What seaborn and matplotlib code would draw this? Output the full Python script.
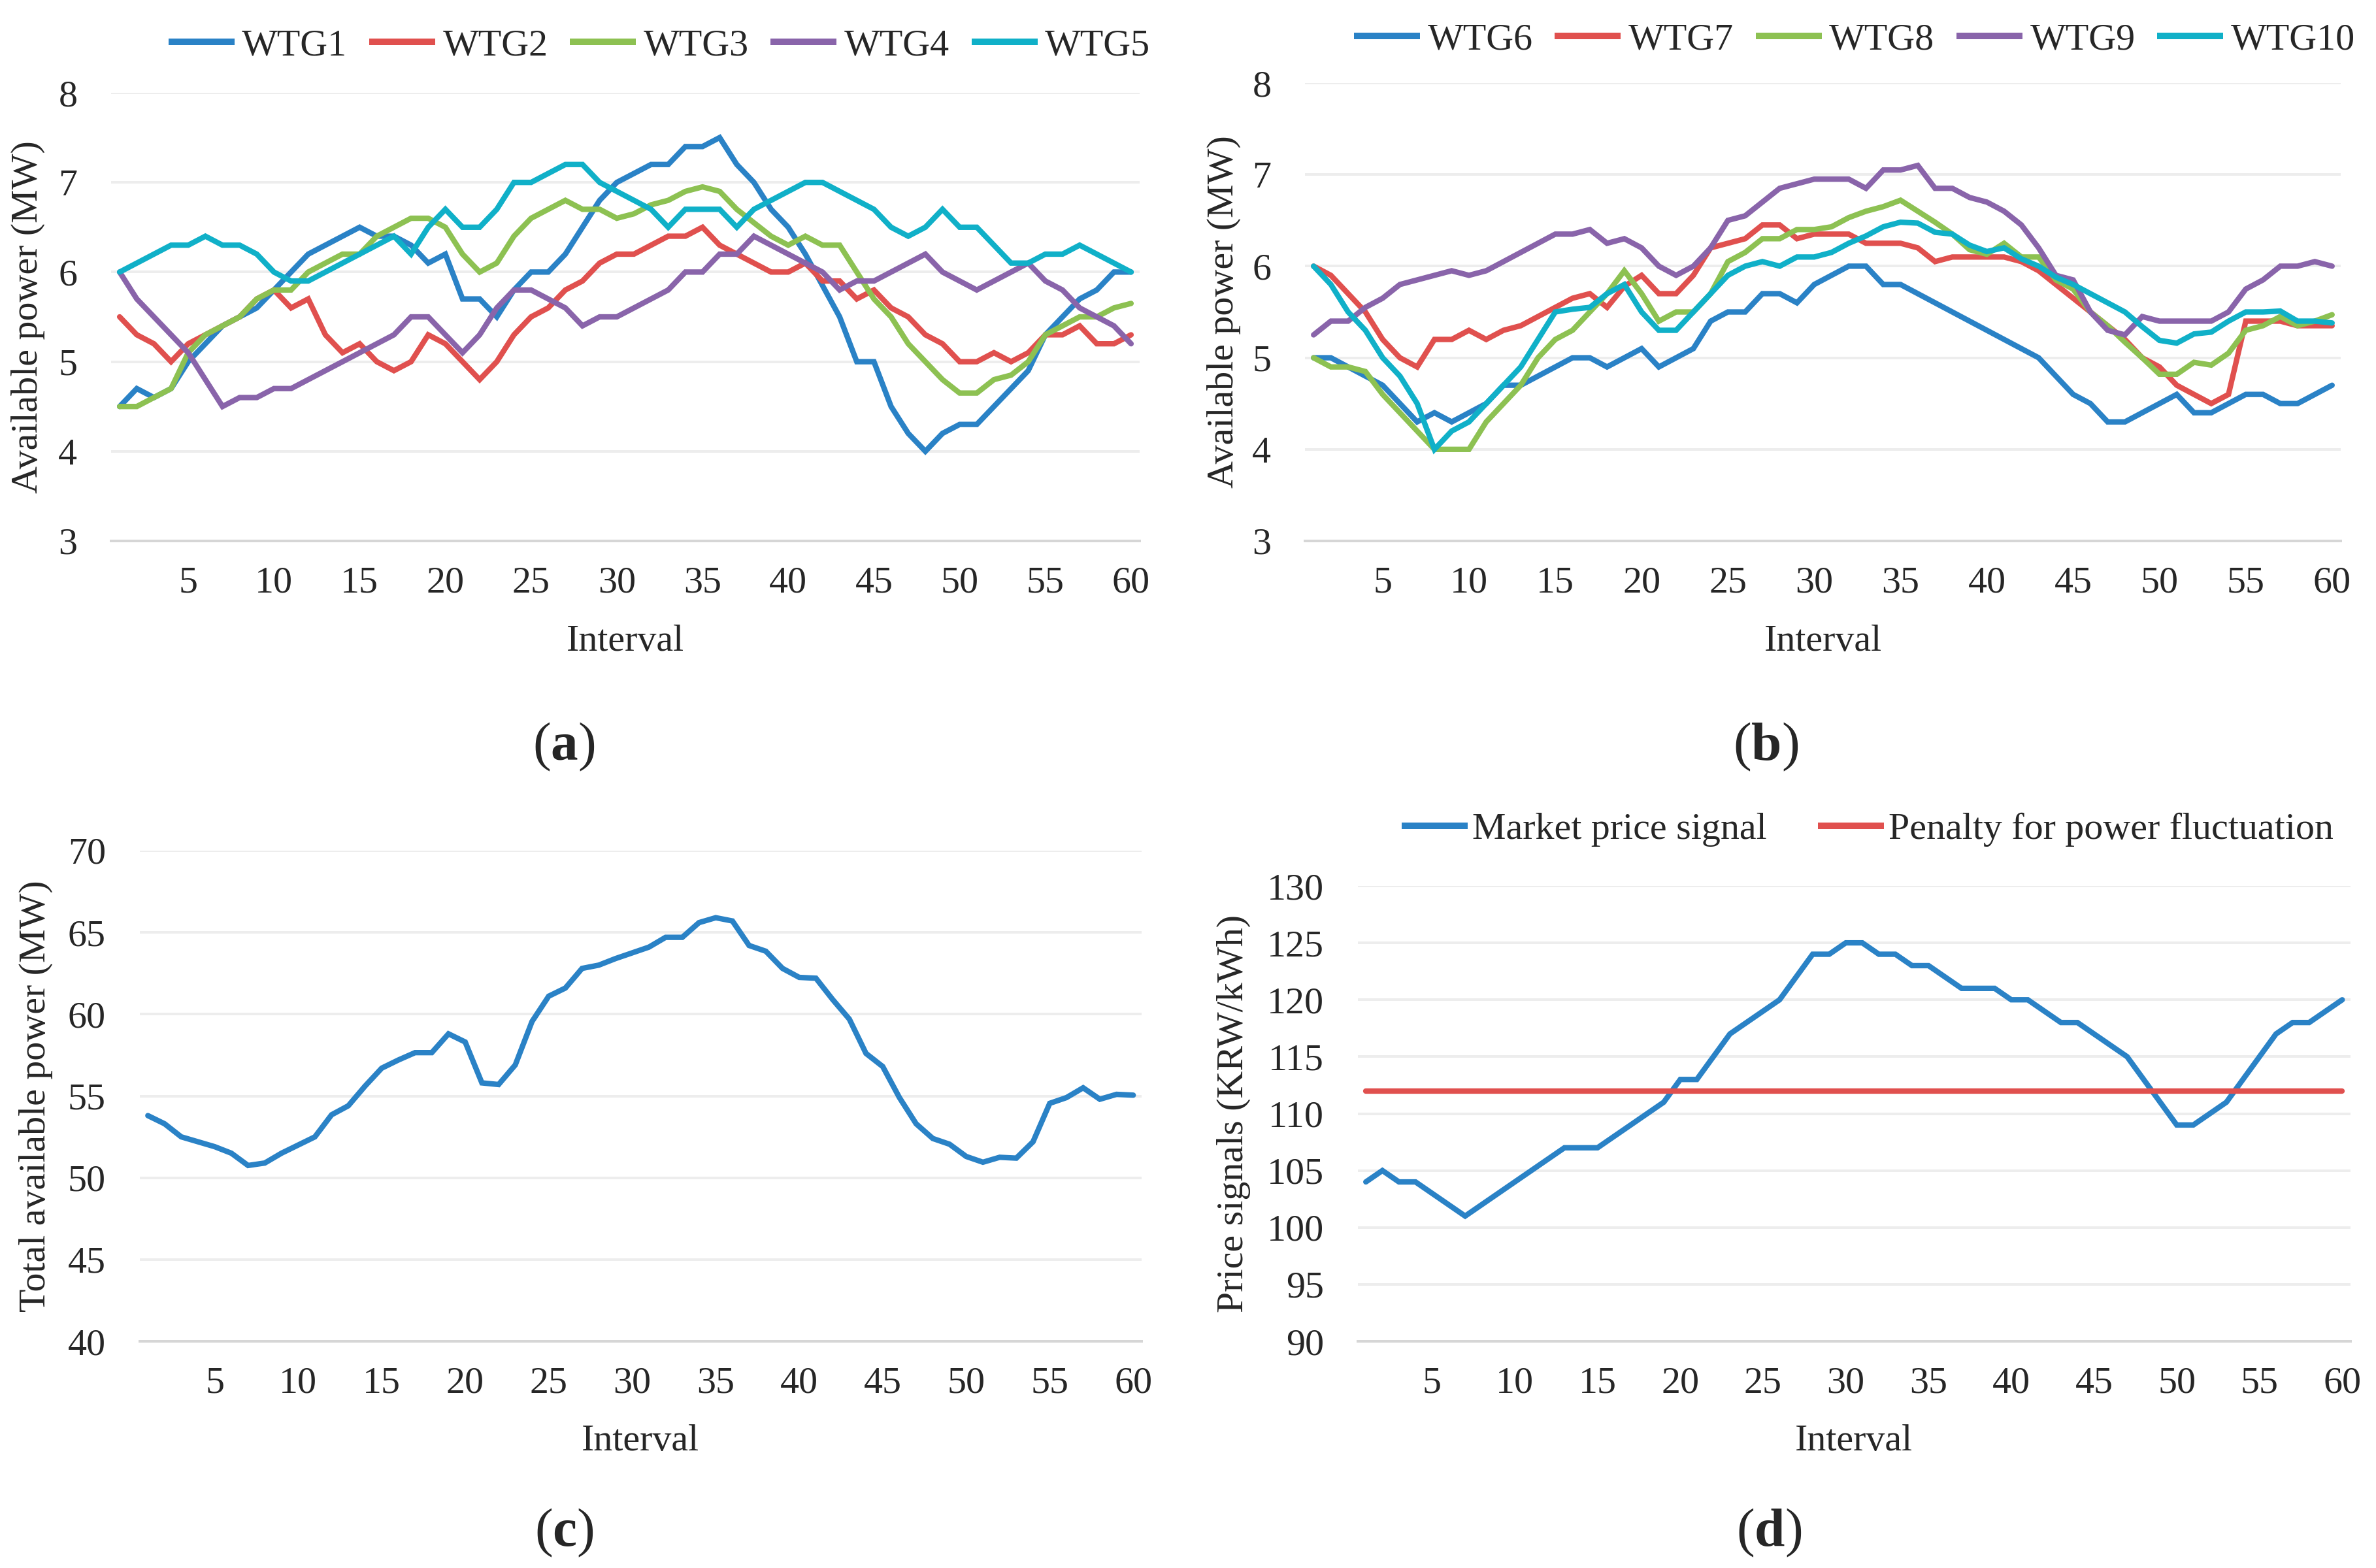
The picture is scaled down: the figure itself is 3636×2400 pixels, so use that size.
import numpy as np
import pandas as pd
import matplotlib
matplotlib.use("Agg")
import matplotlib.pyplot as plt
import seaborn as sns

# ---------------- data ----------------
intervals = list(range(1, 61))

wtg1 = [4.5, 4.7, 4.6, 4.7, 5.0, 5.2, 5.4, 5.5, 5.6, 5.8, 6.0, 6.2, 6.3, 6.4, 6.5, 6.4, 6.4, 6.3, 6.1, 6.2,
        5.7, 5.7, 5.5, 5.8, 6.0, 6.0, 6.2, 6.5, 6.8, 7.0, 7.1, 7.2, 7.2, 7.4, 7.4, 7.5, 7.2, 7.0, 6.7, 6.5,
        6.2, 5.85, 5.5, 5.0, 5.0, 4.5, 4.2, 4.0, 4.2, 4.3, 4.3, 4.5, 4.7, 4.9, 5.3, 5.5, 5.7, 5.8, 6.0, 6.0]
wtg2 = [5.5, 5.3, 5.2, 5.0, 5.2, 5.3, 5.4, 5.5, 5.7, 5.8, 5.6, 5.7, 5.3, 5.1, 5.2, 5.0, 4.9, 5.0, 5.3, 5.2,
        5.0, 4.8, 5.0, 5.3, 5.5, 5.6, 5.8, 5.9, 6.1, 6.2, 6.2, 6.3, 6.4, 6.4, 6.5, 6.3, 6.2, 6.1, 6.0, 6.0,
        6.1, 5.9, 5.9, 5.7, 5.8, 5.6, 5.5, 5.3, 5.2, 5.0, 5.0, 5.1, 5.0, 5.1, 5.3, 5.3, 5.4, 5.2, 5.2, 5.3]
wtg3 = [4.5, 4.5, 4.6, 4.7, 5.1, 5.3, 5.4, 5.5, 5.7, 5.8, 5.8, 6.0, 6.1, 6.2, 6.2, 6.4, 6.5, 6.6, 6.6, 6.5,
        6.2, 6.0, 6.1, 6.4, 6.6, 6.7, 6.8, 6.7, 6.7, 6.6, 6.65, 6.75, 6.8, 6.9, 6.95, 6.9, 6.7, 6.55, 6.4, 6.3,
        6.4, 6.3, 6.3, 6.0, 5.7, 5.5, 5.2, 5.0, 4.8, 4.65, 4.65, 4.8, 4.85, 5.0, 5.3, 5.4, 5.5, 5.5, 5.6, 5.65]
wtg4 = [6.0, 5.7, 5.5, 5.3, 5.1, 4.8, 4.5, 4.6, 4.6, 4.7, 4.7, 4.8, 4.9, 5.0, 5.1, 5.2, 5.3, 5.5, 5.5, 5.3,
        5.1, 5.3, 5.6, 5.8, 5.8, 5.7, 5.6, 5.4, 5.5, 5.5, 5.6, 5.7, 5.8, 6.0, 6.0, 6.2, 6.2, 6.4, 6.3, 6.2,
        6.1, 6.0, 5.8, 5.9, 5.9, 6.0, 6.1, 6.2, 6.0, 5.9, 5.8, 5.9, 6.0, 6.1, 5.9, 5.8, 5.6, 5.5, 5.4, 5.2]
wtg5 = [6.0, 6.1, 6.2, 6.3, 6.3, 6.4, 6.3, 6.3, 6.2, 6.0, 5.9, 5.9, 6.0, 6.1, 6.2, 6.3, 6.4, 6.2, 6.5, 6.7,
        6.5, 6.5, 6.7, 7.0, 7.0, 7.1, 7.2, 7.2, 7.0, 6.9, 6.8, 6.7, 6.5, 6.7, 6.7, 6.7, 6.5, 6.7, 6.8, 6.9,
        7.0, 7.0, 6.9, 6.8, 6.7, 6.5, 6.4, 6.5, 6.7, 6.5, 6.5, 6.3, 6.1, 6.1, 6.2, 6.2, 6.3, 6.2, 6.1, 6.0]

wtg6 = [5.0, 5.0, 4.9, 4.8, 4.7, 4.5, 4.3, 4.4, 4.3, 4.4, 4.5, 4.7, 4.7, 4.8, 4.9, 5.0, 5.0, 4.9, 5.0, 5.1,
        4.9, 5.0, 5.1, 5.4, 5.5, 5.5, 5.7, 5.7, 5.6, 5.8, 5.9, 6.0, 6.0, 5.8, 5.8, 5.7, 5.6, 5.5, 5.4, 5.3,
        5.2, 5.1, 5.0, 4.8, 4.6, 4.5, 4.3, 4.3, 4.4, 4.5, 4.6, 4.4, 4.4, 4.5, 4.6, 4.6, 4.5, 4.5, 4.6, 4.7]
wtg7 = [6.0, 5.9, 5.7, 5.5, 5.2, 5.0, 4.9, 5.2, 5.2, 5.3, 5.2, 5.3, 5.35, 5.45, 5.55, 5.65, 5.7, 5.55, 5.78, 5.9,
        5.7, 5.7, 5.9, 6.2, 6.25, 6.3, 6.45, 6.45, 6.3, 6.35, 6.35, 6.35, 6.25, 6.25, 6.25, 6.2, 6.05, 6.1, 6.1, 6.1,
        6.1, 6.05, 5.95, 5.8, 5.65, 5.5, 5.35, 5.2, 5.0, 4.9, 4.7, 4.6, 4.5, 4.6, 5.4, 5.4, 5.4, 5.35, 5.35, 5.35]
wtg8 = [5.0, 4.9, 4.9, 4.85, 4.6, 4.4, 4.2, 4.0, 4.0, 4.0, 4.3, 4.5, 4.7, 5.0, 5.2, 5.3, 5.5, 5.7, 5.95, 5.7,
        5.4, 5.5, 5.5, 5.7, 6.05, 6.15, 6.3, 6.3, 6.4, 6.4, 6.43, 6.53, 6.6, 6.65, 6.72, 6.6, 6.48, 6.35, 6.18, 6.13,
        6.25, 6.1, 6.1, 5.85, 5.75, 5.5, 5.35, 5.17, 5.0, 4.82, 4.82, 4.95, 4.92, 5.05, 5.3, 5.35, 5.45, 5.35, 5.4, 5.47]
wtg9 = [5.25, 5.4, 5.4, 5.55, 5.65, 5.8, 5.85, 5.9, 5.95, 5.9, 5.95, 6.05, 6.15, 6.25, 6.35, 6.35, 6.4, 6.25, 6.3, 6.2,
        6.0, 5.9, 6.0, 6.2, 6.5, 6.55, 6.7, 6.85, 6.9, 6.95, 6.95, 6.95, 6.85, 7.05, 7.05, 7.1, 6.85, 6.85, 6.75, 6.7,
        6.6, 6.45, 6.2, 5.9, 5.85, 5.5, 5.3, 5.25, 5.45, 5.4, 5.4, 5.4, 5.4, 5.5, 5.75, 5.85, 6.0, 6.0, 6.05, 6.0]
wtg10 = [6.0, 5.8, 5.5, 5.3, 5.0, 4.8, 4.5, 4.0, 4.2, 4.3, 4.5, 4.7, 4.9, 5.2, 5.5, 5.53, 5.55, 5.7, 5.8, 5.5,
         5.3, 5.3, 5.5, 5.7, 5.9, 6.0, 6.05, 6.0, 6.1, 6.1, 6.15, 6.25, 6.33, 6.43, 6.48, 6.47, 6.37, 6.35, 6.23, 6.16,
         6.2, 6.08, 6.0, 5.88, 5.8, 5.7, 5.6, 5.5, 5.34, 5.19, 5.16, 5.26, 5.28, 5.4, 5.5, 5.5, 5.51, 5.4, 5.4, 5.38]

total_power = [53.8, 53.3, 52.5, 52.2, 51.9, 51.5, 50.75, 50.9, 51.5, 52.0, 52.5, 53.85, 54.4, 55.6, 56.7,
               57.2, 57.65, 57.65, 58.8, 58.3, 55.8, 55.7, 56.9, 59.55, 61.1, 61.6, 62.8, 63.0, 63.4, 63.75,
               64.1, 64.7, 64.7, 65.6, 65.9, 65.7, 64.2, 63.85, 62.8, 62.25, 62.2, 60.9, 59.7, 57.6, 56.8,
               54.9, 53.3, 52.4, 52.05, 51.3, 50.95, 51.25, 51.2, 52.2, 54.55, 54.9, 55.5, 54.8, 55.1, 55.05]

market_price = [104, 105, 104, 104, 103, 102, 101, 102, 103, 104, 105, 106, 107, 107, 107, 108, 109, 110, 111, 113,
                113, 115, 117, 118, 119, 120, 122, 124, 124, 125, 125, 124, 124, 123, 123, 122, 121, 121, 121, 120,
                120, 119, 118, 118, 117, 116, 115, 113, 111, 109, 109, 110, 111, 113, 115, 117, 118, 118, 119, 120]
penalty_value = 112
penalty = [penalty_value] * 60

names_a = ["WTG1", "WTG2", "WTG3", "WTG4", "WTG5"]
names_b = ["WTG6", "WTG7", "WTG8", "WTG9", "WTG10"]
series_a = [wtg1, wtg2, wtg3, wtg4, wtg5]
series_b = [wtg6, wtg7, wtg8, wtg9, wtg10]
x_ticks = [5, 10, 15, 20, 25, 30, 35, 40, 45, 50, 55, 60]

# ---------------- style ----------------
BLUE = "#2A82C6"
RED = "#E0504E"
GREEN = "#8DC152"
PURPLE = "#8964AA"
CYAN = "#10B0C8"
palette5 = [BLUE, RED, GREEN, PURPLE, CYAN]

sns.set_style("white")
plt.rcParams["font.family"] = ["Liberation Serif", "DejaVu Serif"]
plt.rcParams["mathtext.fontset"] = "custom"
plt.rcParams["mathtext.rm"] = "Liberation Serif"
plt.rcParams["mathtext.bf"] = "Liberation Serif:bold"

FS = 17.4
LW = 2.5
GRID = "#EDEDED"
AXLINE = "#D6D6D6"

fig = plt.figure(figsize=(15.15, 10), dpi=240)

ax_a = fig.add_axes([0.04675, 0.655, 0.4329, 0.28583])
ax_b = fig.add_axes([0.54923, 0.655, 0.43592, 0.29208])
ax_c = fig.add_axes([0.05872, 0.14458, 0.42175, 0.31292])
ax_d = fig.add_axes([0.57137, 0.14458, 0.4179, 0.29042])


def long_df(names, series):
    rows = []
    for n, s in zip(names, series):
        rows.append(pd.DataFrame({"Interval": intervals, "Power": s, "Unit": n}))
    return pd.concat(rows, ignore_index=True)


def style_axes(ax, ylim, yticks, xlabel, ylabel, xl_y, yl_x):
    ax.set_xlim(0.5, 60.5)
    ax.set_ylim(*ylim)
    ax.set_xticks(x_ticks)
    ax.set_yticks(yticks)
    ax.set_xticklabels([str(t) for t in x_ticks])
    ax.set_yticklabels([str(t) for t in yticks])
    ax.tick_params(axis="x", length=0, pad=11.5, labelsize=FS)
    ax.tick_params(axis="y", length=0, pad=15.5, labelsize=FS)
    ax.grid(axis="y", color=GRID, linewidth=1.2)
    ax.grid(axis="x", visible=False)
    ax.set_axisbelow(True)
    for s in ["top", "right", "left"]:
        ax.spines[s].set_visible(False)
    ax.spines["bottom"].set_color(AXLINE)
    ax.spines["bottom"].set_linewidth(1.2)
    ax.set_xlabel(xlabel, fontsize=FS)
    ax.set_ylabel(ylabel, fontsize=FS)
    ax.xaxis.set_label_coords(0.5, xl_y)
    ax.xaxis.label.set_verticalalignment("center")
    ax.yaxis.set_label_coords(yl_x, 0.5)
    ax.yaxis.label.set_verticalalignment("center")


def relegend(ax, x, y, ncol, colsp, htp=0.2):
    leg = ax.get_legend()
    handles = list(leg.legend_handles)
    labels = [t.get_text() for t in leg.get_texts()]
    leg.remove()
    for h in handles:
        h.set_linewidth(LW * 1.2)
        h.set_solid_capstyle("butt")
    ax.legend(handles, labels, loc="center", bbox_to_anchor=(x, y), bbox_transform=fig.transFigure,
              ncol=ncol, frameon=False, fontsize=FS, handlelength=1.74, handletextpad=htp,
              columnspacing=colsp, borderpad=0, borderaxespad=0)


# (a)
df_a = long_df(names_a, series_a)
sns.lineplot(data=df_a, x="Interval", y="Power", hue="Unit", hue_order=names_a, palette=palette5,
             linewidth=LW, ax=ax_a)
style_axes(ax_a, (3, 8), [3, 4, 5, 6, 7, 8], "Interval", "Available power (MW)", -0.2245, -0.0807)
relegend(ax_a, 1009 / 3636, 1 - 70 / 2400, 5, 0.58)

# (b)
df_b = long_df(names_b, series_b)
sns.lineplot(data=df_b, x="Interval", y="Power", hue="Unit", hue_order=names_b, palette=palette5,
             linewidth=LW, ax=ax_b)
style_axes(ax_b, (3, 8), [3, 4, 5, 6, 7, 8], "Interval", "Available power (MW)", -0.2197, -0.0782)
relegend(ax_b, 2838 / 3636, 1 - 61 / 2400, 5, 0.58)

# (c)
df_c = pd.DataFrame({"Interval": intervals, "Total": total_power})
sns.lineplot(data=df_c, x="Interval", y="Total", color=BLUE, linewidth=LW, ax=ax_c)
style_axes(ax_c, (40, 70), [40, 45, 50, 55, 60, 65, 70], "Interval", "Total available power (MW)",
           -0.2037, -0.1034)

# (d)
df_d = pd.concat([
    pd.DataFrame({"Interval": intervals, "Price": market_price, "Signal": "Market price signal"}),
    pd.DataFrame({"Interval": intervals, "Price": penalty, "Signal": "Penalty for power fluctuation"}),
], ignore_index=True)
sns.lineplot(data=df_d, x="Interval", y="Price", hue="Signal",
             hue_order=["Market price signal", "Penalty for power fluctuation"],
             palette=[BLUE, RED], linewidth=LW, ax=ax_d)
style_axes(ax_d, (90, 130), [90, 95, 100, 105, 110, 115, 120, 125, 130], "Interval",
           "Price signals (KRW/kWh)", -0.2195, -0.1247)
relegend(ax_d, 2858 / 3636, 1 - 1270 / 2400, 2, 1.35, htp=0.12)

for ax in (ax_a, ax_b, ax_c, ax_d):
    for ln in ax.get_lines():
        ln.set_solid_joinstyle("miter")

# sub-captions
CAP = 25
fig.text(863 / 3636, 1 - 1143 / 2400, r"($\mathbf{a}$)", ha="center", va="center", fontsize=CAP)
fig.text(2702 / 3636, 1 - 1143 / 2400, r"($\mathbf{b}$)", ha="center", va="center", fontsize=CAP)
fig.text(863 / 3636, 1 - 2346 / 2400, r"($\mathbf{c}$)", ha="center", va="center", fontsize=CAP)
fig.text(2707 / 3636, 1 - 2346 / 2400, r"($\mathbf{d}$)", ha="center", va="center", fontsize=CAP)

fig.savefig("out.png", dpi=240, facecolor="white")
